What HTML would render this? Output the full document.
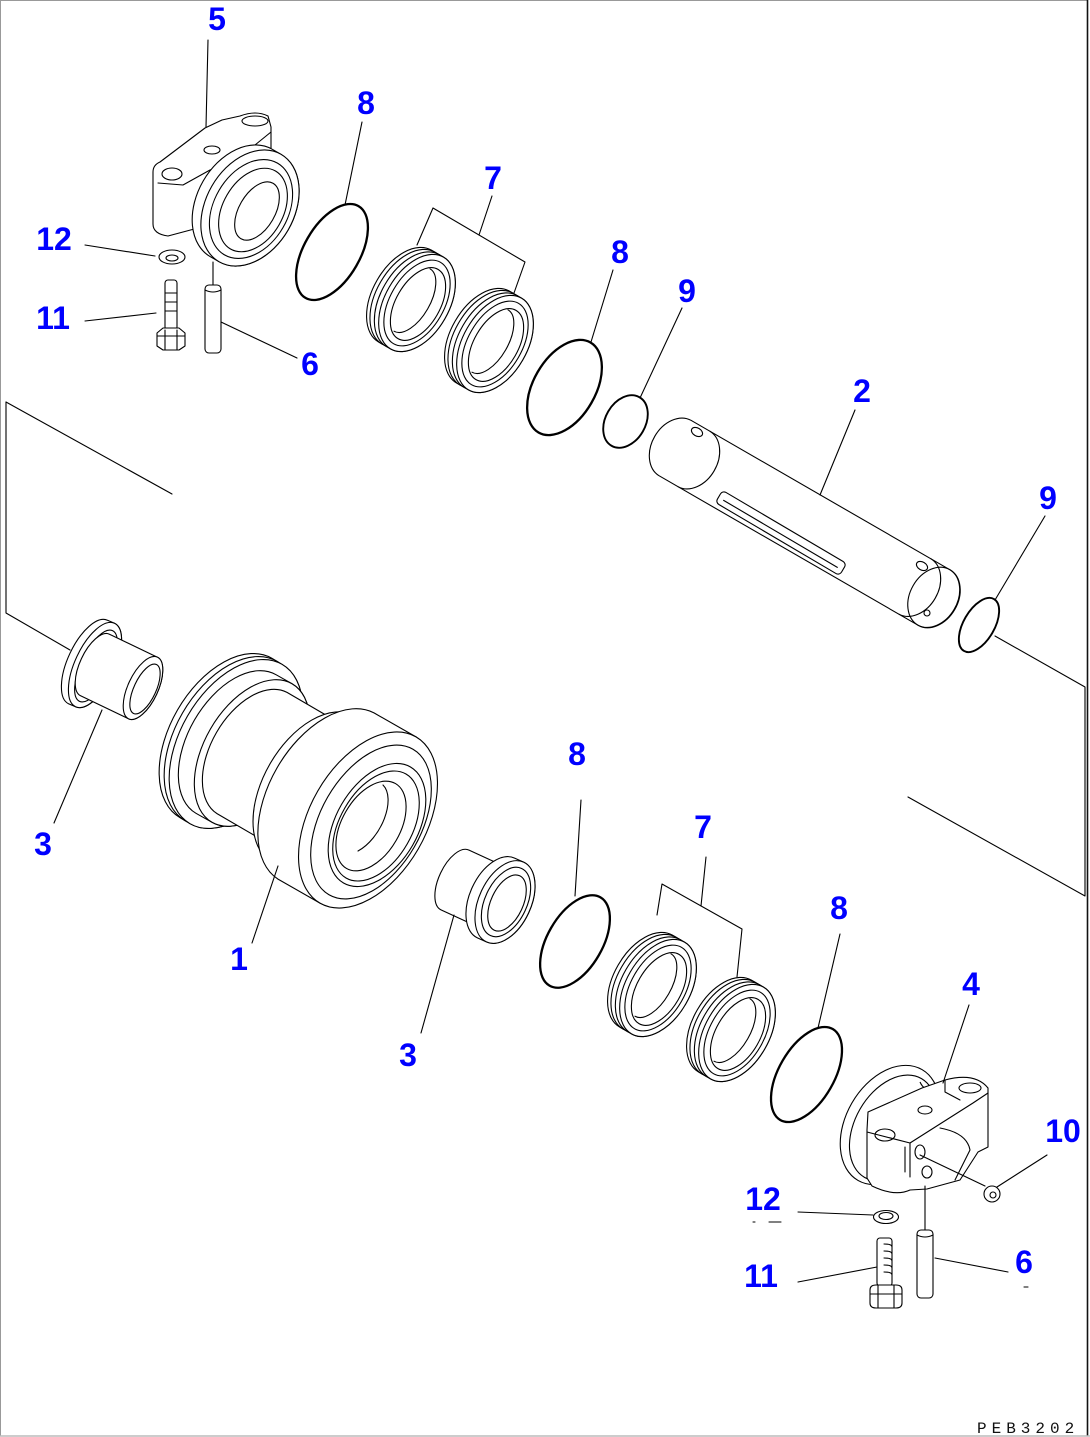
<!DOCTYPE html>
<html><head><meta charset="utf-8">
<style>
html,body{margin:0;padding:0;background:#fff;}
svg{display:block;}
.l{fill:none;stroke:#000;stroke-width:1.1;stroke-linejoin:round;stroke-linecap:round;}
.w{fill:#fff;stroke:#000;stroke-width:1.1;stroke-linejoin:round;}
.r8{fill:none;stroke:#000;stroke-width:2.3;}
.r9{fill:none;stroke:#000;stroke-width:1.9;}
.n{font-family:"Liberation Sans",Arial,sans-serif;font-weight:bold;font-size:32px;fill:#0000ff;text-anchor:middle;}
.c{font-family:"Liberation Mono","DejaVu Sans Mono",monospace;font-size:16px;fill:#111;letter-spacing:5px;}
</style></head><body>
<svg width="1090" height="1437" viewBox="0 0 1090 1437" xmlns="http://www.w3.org/2000/svg">
<defs>
<g id="seal">
 <path class="w" d="M14.4,-52.9 A32,53 30 0 0 -38.6,38.9 L-26.5,45.9 A32,53 30 0 0 26.5,-45.9 Z"/>
 <ellipse class="w" cx="-8.7" cy="-5" rx="32" ry="53" transform="rotate(30 -8.7 -5)"/>
 <ellipse class="w" cx="-4.3" cy="-2.5" rx="32" ry="53" transform="rotate(30 -4.3 -2.5)"/>
 <ellipse class="w" cx="0" cy="0" rx="32" ry="53" transform="rotate(30)"/>
 <ellipse class="l" cx="0" cy="0" rx="27" ry="47" transform="rotate(30)"/>
 <ellipse class="l" cx="1" cy="1" rx="22" ry="40" transform="rotate(30 1 1)"/>
 <path class="l" d="M13,-34.2 A18,36 30 0 1 -23,28.2"/>
</g>
</defs>

<!-- page border -->
<rect x="0" y="0" width="1090" height="1437" fill="#fff"/>
<path d="M0.5,1436 L0.5,0.5 L1087,0.5" fill="none" stroke="#999" stroke-width="1"/>
<path d="M1087.5,0 L1087.5,1436" fill="none" stroke="#111" stroke-width="1.6"/>
<path d="M0,1436 L1090,1436" fill="none" stroke="#bbb" stroke-width="1.5"/>

<!-- frame lines -->
<path class="l" d="M6,402 L6,613 L70,650"/>
<path class="l" d="M6,402 L172,494"/>
<path class="l" d="M995,636 L1085,687 L1085,896 L908,797"/>

<!-- ===== Part 5 (upper bracket) ===== -->
<path class="w" d="M153,172 Q153,165 160,162 L205,128 L222,120 L240,116 Q256,110 268,116 L271,127 L271,150 L240,168 L210,205 L198,228 L168,236 Q153,234 153,224 Z"/>
<path class="l" d="M158,183 L183,185 L210,170 L225,165"/>
<ellipse class="l" cx="172" cy="174" rx="10" ry="6"/>
<ellipse class="l" cx="212" cy="150" rx="8" ry="4"/>
<ellipse class="l" cx="255" cy="121" rx="13" ry="5"/>
<path class="l" d="M255,145 L271,132"/>
<path class="w" d="M272.3,149.3 A44,62 30 0 0 210.3,256.7 L219,261.7 A44,62 30 0 0 281,154.3 Z"/>
<ellipse class="w" cx="250" cy="208" rx="44" ry="62" transform="rotate(30 250 208)"/>
<ellipse class="l" cx="251" cy="209" rx="37" ry="53" transform="rotate(30 251 209)"/>
<ellipse class="l" cx="253" cy="210" rx="30" ry="45" transform="rotate(30 253 210)"/>
<ellipse class="l" cx="257" cy="211" rx="18" ry="32" transform="rotate(30 257 211)"/>
<path class="l" d="M213,262 L213,285"/>

<!-- pin 6 top -->
<rect class="w" x="205" y="285" width="16" height="68" rx="4"/>
<path class="l" d="M205,290 Q213,294 221,290"/>
<!-- washer 12 top -->
<ellipse class="l" cx="172" cy="257" rx="13" ry="7"/>
<ellipse class="l" cx="172" cy="258" rx="6" ry="3"/>
<!-- bolt 11 top -->
<rect class="w" x="165" y="280" width="12" height="50" rx="3"/>
<path class="l" d="M165,293 L177,293 M165,302 L177,302 M165,311 L177,311"/>
<path class="w" d="M157,333 L163,328 L179,328 L185,333 L185,346 L179,350 L163,350 L157,346 Z"/>
<path class="l" d="M165,330 L165,350 M177,330 L177,350 M157,336 L185,336"/>

<!-- ring 8 top -->
<ellipse class="r8" cx="332" cy="252" rx="28" ry="53" transform="rotate(30 332 252)"/>

<!-- seals 7 upper -->
<use href="#seal" transform="translate(417,303)"/>
<use href="#seal" transform="translate(495,344)"/>
<path class="l" d="M417,245 L433,208 L525,262 L514,293"/>

<!-- ring 8 second, ring 9 first -->
<ellipse class="r8" cx="564.5" cy="387.5" rx="31" ry="52" transform="rotate(30 564.5 387.5)"/>
<ellipse class="r9" cx="625.5" cy="421.5" rx="20" ry="28" transform="rotate(30 625.5 421.5)"/>

<!-- shaft 2 -->
<path class="w" d="M691,420.3 A24,32 30 0 0 659,475.7 L918,625.2 A24,32 30 0 0 950,569.8 Z"/>
<ellipse class="l" cx="934" cy="597.5" rx="24" ry="32" transform="rotate(30 934 597.5)"/>
<path class="l" d="M710,431.3 A24,32 30 0 1 678,486.7"/>
<path class="l" d="M931,558.8 A24,32 30 0 1 899,614.2"/>
<rect class="l" x="-72" y="-7" width="144" height="14" rx="4" transform="translate(781,533) rotate(30.5)"/>
<path class="l" d="M-66,1 L66,1" transform="translate(781,533) rotate(30.5)"/>
<ellipse class="l" cx="697" cy="432" rx="6" ry="4" transform="rotate(30 697 432)"/>
<ellipse class="l" cx="922" cy="566" rx="6" ry="4" transform="rotate(30 922 566)"/>
<circle class="l" cx="927" cy="613" r="3"/>

<!-- ring 9 second -->
<ellipse class="r9" cx="979" cy="625" rx="15.5" ry="30" transform="rotate(30 979 625)"/>

<!-- ===== bushing 3 left ===== -->
<path class="w" d="M107.5,620.3 A20,46 25 0 0 68.5,703.7 L75.5,706.7 A20,46 25 0 0 114.5,623.3 Z"/>
<ellipse class="w" cx="95" cy="665" rx="20" ry="46" transform="rotate(25 95 665)"/>
<ellipse class="l" cx="96" cy="666" rx="15" ry="39" transform="rotate(25 96 666)"/>
<path class="w" d="M109.4,634.2 A15,34 25 0 0 80.6,695.8 L128.6,718.8 A15,34 25 0 0 157.4,657.2 Z"/>
<ellipse class="w" cx="143" cy="688" rx="15" ry="34" transform="rotate(25 143 688)"/>
<ellipse class="l" cx="145" cy="689" rx="11" ry="27" transform="rotate(25 145 689)"/>

<!-- ===== roller 1 ===== -->
<path class="w" d="M272,658.3 A56,92 30 0 0 180,817.7 L190,823.7 A56,92 30 0 0 282,664.3 Z"/>
<ellipse class="w" cx="231" cy="741" rx="56" ry="92" transform="rotate(30 231 741)"/>
<ellipse class="w" cx="236" cy="744" rx="56" ry="92" transform="rotate(30 236 744)"/>
<path class="w" d="M276,674.7 A48,80 30 0 0 196,813.3 L212,822.3 A48,80 30 0 0 292,683.7 Z"/>
<ellipse class="w" cx="252" cy="753" rx="48" ry="80" transform="rotate(30 252 753)"/>
<path class="w" d="M287,692.4 A42,70 30 0 0 217,813.6 L277,848.6 A42,70 30 0 0 347,727.4 Z"/>
<path class="w" d="M354,715.3 A50,84 30 0 0 270,860.7 L282,867.7 A50,84 30 0 0 366,722.3 Z"/>
<ellipse class="w" cx="324" cy="795" rx="50" ry="84" transform="rotate(30 324 795)"/>
<path class="w" d="M374,712.9 A58,96 30 0 0 278,879.1 L320,903.1 A58,96 30 0 0 416,736.9 Z"/>
<ellipse class="w" cx="368" cy="820" rx="58" ry="96" transform="rotate(30 368 820)"/>
<ellipse class="l" cx="371" cy="822" rx="50" ry="84" transform="rotate(30 371 822)"/>
<ellipse class="l" cx="377" cy="825" rx="41" ry="67" transform="rotate(30 377 825)"/>
<ellipse class="l" cx="376" cy="826" rx="36" ry="60" transform="rotate(30 376 826)"/>
<ellipse class="l" cx="371" cy="826" rx="29" ry="49" transform="rotate(30 371 826)"/>
<path class="l" d="M383,785 A22,40 30 0 1 358,851"/>

<!-- ===== bushing 3 right ===== -->
<path class="w" d="M469,850.1 A16,33 25 0 0 441,909.9 L478,926.9 A16,33 25 0 0 506,867.1 Z"/>
<path class="w" d="M514.6,858.1 A26,44 25 0 0 477.4,937.9 L486.4,941.9 A26,44 25 0 0 523.6,862.1 Z"/>
<ellipse class="w" cx="505" cy="902" rx="26" ry="44" transform="rotate(25 505 902)"/>
<ellipse class="l" cx="506" cy="902" rx="21" ry="37" transform="rotate(25 506 902)"/>
<ellipse class="l" cx="507" cy="903" rx="16" ry="30" transform="rotate(25 507 903)"/>

<!-- ring 8 lower-left -->
<ellipse class="r8" cx="575" cy="941.5" rx="27.5" ry="51" transform="rotate(30 575 941.5)"/>

<!-- seals 7 lower -->
<use href="#seal" transform="translate(658,988)"/>
<use href="#seal" transform="translate(737,1033)"/>
<path class="l" d="M657,915 L662,884 L742,929 L737,977"/>

<!-- ring 8 lower-right -->
<ellipse class="r8" cx="806.5" cy="1074.5" rx="27.6" ry="52.5" transform="rotate(30 806.5 1074.5)"/>

<!-- ===== Part 4 (lower bracket) ===== -->
<ellipse class="w" cx="890" cy="1125" rx="44" ry="64" transform="rotate(30 890 1125)"/>
<ellipse class="l" cx="893" cy="1128" rx="38" ry="57" transform="rotate(30 893 1128)"/>
<path class="w" d="M920,1082 Q925,1093 937,1090"/>
<path class="w" d="M868,1112 L922,1088 L945,1080 Q975,1072 988,1088 L988,1147 L978,1152 L960,1180 L927,1189 L910,1190 Q895,1197 872,1186 L867,1178 L867,1130 Z"/>
<path class="l" d="M867,1132 L910,1143 L973,1103 L988,1093"/>
<path class="l" d="M910,1143 L910,1177 M905,1147 L905,1172"/>
<path class="l" d="M940,1128 Q967,1133 970,1150 L955,1180"/>
<path class="l" d="M945,1080 L945,1092 L960,1100"/>
<ellipse class="l" cx="970" cy="1088" rx="11" ry="5"/>
<ellipse class="l" cx="885" cy="1135" rx="10" ry="6"/>
<ellipse class="l" cx="925" cy="1110" rx="7" ry="4"/>
<ellipse class="l" cx="920" cy="1152" rx="5" ry="7"/>
<ellipse class="l" cx="927" cy="1172" rx="5" ry="6"/>
<path class="l" d="M920,1155 L985,1186"/>
<!-- bolt 10 -->
<ellipse class="w" cx="992" cy="1194" rx="8" ry="8"/>
<circle class="l" cx="993" cy="1195" r="3"/>
<!-- pin line + pin 6 bottom -->
<path class="l" d="M925,1186 L925,1230"/>
<rect class="w" x="917" y="1230" width="16" height="68" rx="4"/>
<path class="l" d="M917,1235 Q925,1239 933,1235"/>
<!-- washer 12 bottom -->
<ellipse class="l" cx="886" cy="1217" rx="12.5" ry="6.5"/>
<ellipse class="l" cx="886" cy="1216" rx="7" ry="3.5"/>
<!-- bolt 11 bottom -->
<rect class="w" x="877" y="1238" width="15" height="48" rx="3"/>
<path class="l" d="M884,1244 Q892,1244 892,1247 M884,1251 Q892,1251 892,1254 M884,1258 Q892,1258 892,1261 M884,1265 Q892,1265 892,1268 M884,1272 Q892,1272 892,1275"/>
<path class="w" d="M870,1290 Q870,1285 876,1285 L896,1285 Q902,1285 902,1290 L902,1303 Q902,1308 896,1308 L876,1308 Q870,1308 870,1303 Z"/>
<path class="l" d="M878,1285 L878,1308 M894,1285 L894,1308 M870,1294 L902,1294"/>

<!-- ===== leader lines ===== -->
<path class="l" d="M208,40 L206,127"/>
<path class="l" d="M362,122 L345,205"/>
<path class="l" d="M492,196 L479,235"/>
<path class="l" d="M85,245 L155,256"/>
<path class="l" d="M85,321 L156,313"/>
<path class="l" d="M221,322 L297,358"/>
<path class="l" d="M613,270 L591,342"/>
<path class="l" d="M682,308 L640,398"/>
<path class="l" d="M855,410 L820,495"/>
<path class="l" d="M1045,516 L995,600"/>
<path class="l" d="M102,710 L54,823"/>
<path class="l" d="M278,866 L252,943"/>
<path class="l" d="M454,915 L421,1033"/>
<path class="l" d="M581,800 L575,896"/>
<path class="l" d="M706,857 L701,906"/>
<path class="l" d="M840,934 L818,1028"/>
<path class="l" d="M969,1005 L943,1083"/>
<path class="l" d="M1047,1155 L997,1187"/>
<path class="l" d="M798,1212 L873,1215"/>
<path class="l" d="M753,1222 L755,1222 M769,1222 L781,1222"/>
<path class="l" d="M798,1282 L877,1267"/>
<path class="l" d="M935,1258 L1008,1272"/>
<path class="l" d="M1024,1287 L1028,1287"/>

<!-- ===== labels ===== -->
<text class="n" x="217" y="30">5</text>
<text class="n" x="366" y="114">8</text>
<text class="n" x="493" y="189">7</text>
<text class="n" x="54" y="250">12</text>
<text class="n" x="620" y="263">8</text>
<text class="n" x="687" y="302">9</text>
<text class="n" x="53" y="329">11</text>
<text class="n" x="310" y="375">6</text>
<text class="n" x="862" y="402">2</text>
<text class="n" x="1048" y="509">9</text>
<text class="n" x="577" y="765">8</text>
<text class="n" x="43" y="855">3</text>
<text class="n" x="703" y="838">7</text>
<text class="n" x="839" y="919">8</text>
<text class="n" x="239" y="970">1</text>
<text class="n" x="971" y="995">4</text>
<text class="n" x="408" y="1066">3</text>
<text class="n" x="1063" y="1142">10</text>
<text class="n" x="763" y="1210">12</text>
<text class="n" x="761" y="1287">11</text>
<text class="n" x="1024" y="1273">6</text>

<text class="c" x="977" y="1433">PEB3202</text>
</svg>
</body></html>
